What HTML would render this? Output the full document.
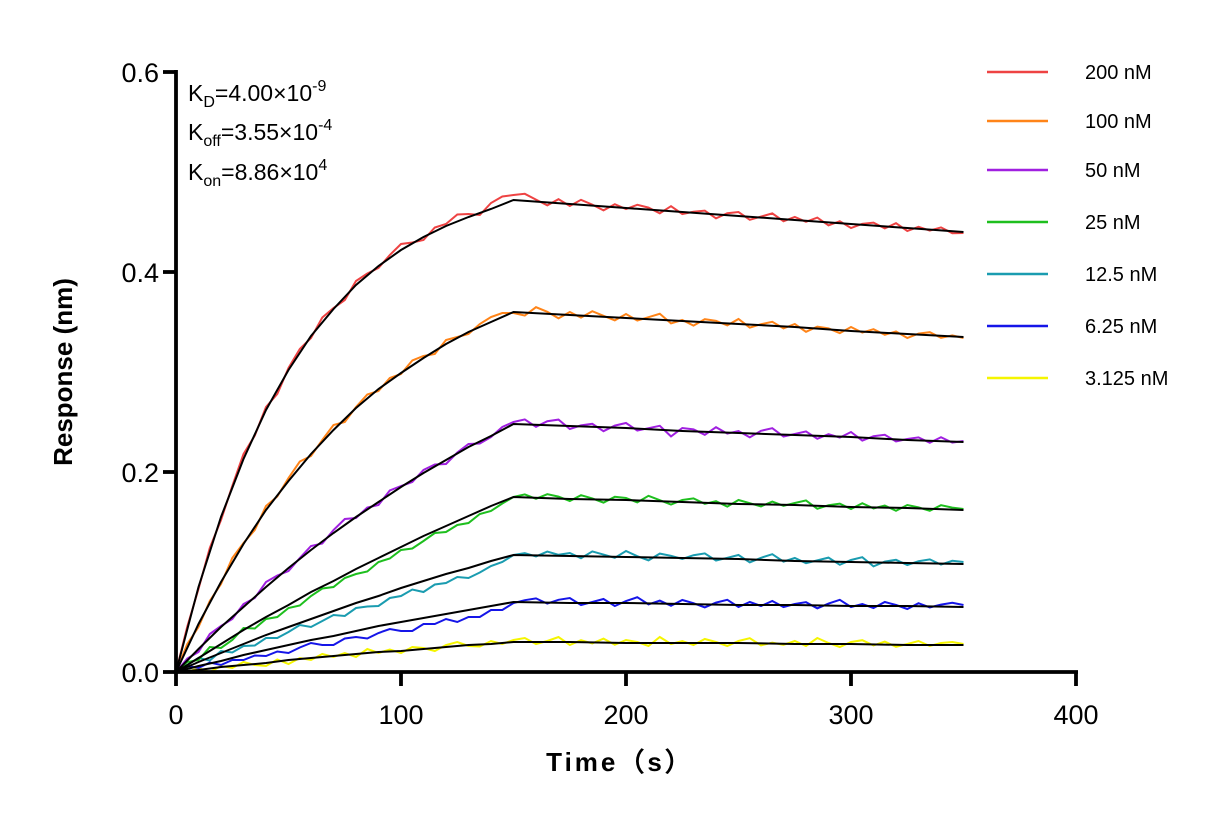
<!DOCTYPE html>
<html><head><meta charset="utf-8">
<style>
html,body{margin:0;padding:0;background:#fff;}
svg{display:block;font-family:"Liberation Sans",Arial,sans-serif;}
</style></head>
<body>
<svg id="chart" width="1231" height="825" viewBox="0 0 1231 825">
  <g id="series"></g>
  <g id="axes"></g>
  <g font-size="23" fill="#000">
    <text x="188" y="101">K<tspan font-size="16" dy="6">D</tspan><tspan dy="-6">=4.00×10</tspan><tspan font-size="16" dy="-10">-9</tspan></text>
    <text x="188" y="140">K<tspan font-size="16" dy="6">off</tspan><tspan dy="-6">=3.55×10</tspan><tspan font-size="16" dy="-10">-4</tspan></text>
    <text x="188" y="180">K<tspan font-size="16" dy="6">on</tspan><tspan dy="-6">=8.86×10</tspan><tspan font-size="16" dy="-10">4</tspan></text>
  </g>
  <g id="legend"></g>
</svg>
<script>
const NS="http://www.w3.org/2000/svg";
const labels=["200 nM","100 nM","50 nM","25 nM","12.5 nM","6.25 nM","3.125 nM"];
const colors=["#EE4343","#FF8418","#A020E0","#1EBF1E","#1A9CB0","#1515E8","#F5F500"];
const xTicks=[0,100,200,300,400];
const yTicks=[0.0,0.2,0.4,0.6];
const yTickLabels=["0.0","0.2","0.4","0.6"];
// fit: association t=0..150 step 10, dissociation t=150..350 step 25
const fitAssoc200=[0,.085,.155,.213,.262,.302,.336,.363,.387,.406,.422,.435,.446,.455,.463,.472];
const fitDiss200=[.472,.468,.464,.460,.456,.452,.448,.444,.440];
const fitAssoc100=[0,.048,.090,.128,.162,.191,.218,.242,.264,.283,.299,.314,.328,.340,.350,.360];
const fitDiss100=[.360,.357,.354,.351,.348,.345,.341,.338,.335];
const fitAssoc50=[0,.023,.045,.065,.085,.104,.122,.139,.155,.170,.185,.199,.212,.225,.236,.248];
const fitDiss50=[.248,.246,.244,.241,.239,.237,.235,.232,.230];
const fitAssoc25=[0,.014,.028,.042,.055,.067,.080,.091,.103,.114,.125,.136,.146,.156,.166,.175];
const fitDiss25=[.175,.173,.172,.170,.168,.167,.165,.164,.162];
const fitAssoc12=[0,.010,.019,.028,.037,.045,.053,.061,.069,.076,.084,.091,.098,.104,.111,.117];
const fitDiss12=[.117,.116,.115,.114,.113,.111,.110,.109,.108];
const fitAssoc6=[0,.006,.011,.017,.022,.027,.032,.036,.041,.046,.050,.054,.058,.062,.066,.070];
const fitDiss6=[.070,.069,.069,.068,.067,.067,.066,.066,.065];
const fitAssoc3=[0,.002,.005,.007,.009,.012,.014,.016,.018,.020,.021,.023,.025,.027,.028,.030];
const fitDiss3=[.030,.030,.029,.029,.029,.028,.028,.027,.027];
// measured residuals from fit (x0.001), t=0..350 step 5
const resid200=[0,3,-2,4,-3,2,5,-1,3,-4,2,4,-2,5,1,-3,4,2,-2,3,6,1,-3,4,2,7,3,-2,6,8,5,7,2,-3,4,-2,5,1,-4,3,-1,4,2,-3,5,-2,1,3,-4,2,4,-3,1,5,-2,3,-1,4,-3,2,-4,1,3,-2,4,-3,2,-1,3,-2,-1];
const resid100=[0,4,-3,2,-2,5,1,-3,4,-1,3,6,-2,2,5,-3,1,4,-2,3,-1,5,2,-3,4,1,-2,3,5,4,-1,-3,6,2,-4,3,-2,5,1,-3,4,-2,2,6,-3,1,-4,3,2,-2,5,-3,1,4,-2,3,-4,2,1,-3,4,-1,3,-2,2,-4,1,3,-2,1,-1];
const resid50=[0,2,-3,4,1,-2,3,-1,5,2,-3,1,4,-2,3,6,-1,2,-3,4,1,-2,3,2,-4,1,3,-2,-1,3,2,5,-2,4,6,-3,1,3,-4,2,5,-2,1,4,-6,3,2,-3,5,-1,2,-4,3,6,-2,1,4,-3,2,-1,5,-3,2,4,-2,1,3,-2,4,-1,1];
const resid25=[0,3,-2,4,-4,-3,2,-5,-2,-6,-3,-7,-4,-2,-6,-3,-5,-8,-4,-6,-3,-7,-5,-2,-6,-4,-7,-3,-5,-2,0,3,-1,4,2,-2,4,1,-3,3,2,-2,5,1,-3,2,4,-1,2,-3,4,1,-2,3,-1,2,5,-3,1,3,-2,4,-1,2,-3,3,1,-2,4,2,1];
const resid12=[0,2,4,-3,2,-4,-2,-6,-3,-7,-5,-2,-8,-6,-4,-9,-5,-7,-10,-6,-8,-5,-11,-7,-9,-6,-10,-8,-5,-4,0,2,-1,4,1,3,-2,5,2,-1,6,1,-3,4,2,-1,3,5,-2,1,4,-3,2,6,-1,3,-2,1,4,-3,2,5,-4,1,3,-2,2,4,-1,3,2];
const resid6=[0,3,-2,1,-4,-2,-5,-3,-6,-4,-8,-5,-3,-7,-9,-5,-6,-10,-7,-5,-9,-11,-6,-8,-5,-10,-7,-9,-4,-6,-1,2,4,-1,3,5,-2,1,4,-3,2,6,-1,3,-2,4,1,-3,2,5,-2,3,-1,4,-2,1,3,-3,2,6,-1,2,-2,4,1,-3,3,-1,2,4,2];
const resid3=[0,-3,2,-4,1,-2,3,-1,-3,2,-4,1,-2,3,-1,2,-3,4,-1,2,-2,3,1,-3,2,4,-1,-2,3,-1,2,4,-2,1,5,-3,2,-1,4,-2,3,1,-3,6,-1,2,-2,4,1,-3,2,5,-2,1,-1,3,-2,6,1,-3,2,4,-1,3,-2,1,4,-1,2,3,1];
const fitsA=[fitAssoc200,fitAssoc100,fitAssoc50,fitAssoc25,fitAssoc12,fitAssoc6,fitAssoc3];
const fitsD=[fitDiss200,fitDiss100,fitDiss50,fitDiss25,fitDiss12,fitDiss6,fitDiss3];
const resids=[resid200,resid100,resid50,resid25,resid12,resid6,resid3];

const X0=176,X1=1076,Y0=672,Y1=72;
const xs=t=>X0+(t/400)*(X1-X0);
const ys=v=>Y0-(v/0.6)*(Y0-Y1);
function fitAt(i,t){
  let arr,step,t0;
  if(t<=150){arr=fitsA[i];step=10;t0=0;} else {arr=fitsD[i];step=25;t0=150;}
  const f=(t-t0)/step, k=Math.min(Math.floor(f),arr.length-2), r=f-k;
  return arr[k]*(1-r)+arr[k+1]*r;
}
const gS=document.getElementById('series');
for(let i=labels.length-1;i>=0;i--){
  const pts=resids[i].map((r,j)=>{const t=j*5;return xs(t).toFixed(1)+","+ys(Math.max(0,fitAt(i,t)+r/1000)).toFixed(1);});
  const p=document.createElementNS(NS,'polyline');
  p.setAttribute('points',pts.join(' '));
  p.setAttribute('fill','none');p.setAttribute('stroke',colors[i]);p.setAttribute('stroke-width','2');
  
  
  gS.appendChild(p);
}
for(let i=0;i<labels.length;i++){
  const pts=[];
  fitsA[i].forEach((v,j)=>pts.push(xs(j*10).toFixed(1)+","+ys(v).toFixed(1)));
  fitsD[i].forEach((v,j)=>{if(j>0)pts.push(xs(150+j*25).toFixed(1)+","+ys(v).toFixed(1));});
  const p=document.createElementNS(NS,'polyline');
  p.setAttribute('points',pts.join(' '));
  p.setAttribute('fill','none');p.setAttribute('stroke','#000');p.setAttribute('stroke-width','2');
  
  
  gS.appendChild(p);
}
const gA=document.getElementById('axes');
function line(x1,y1,x2,y2,name){
  const l=document.createElementNS(NS,'line');
  l.setAttribute('x1',x1);l.setAttribute('y1',y1);l.setAttribute('x2',x2);l.setAttribute('y2',y2);
  l.setAttribute('stroke','#000');l.setAttribute('stroke-width','3.8');
  
  
  gA.appendChild(l);
}
function text(x,y,s,anchor,name,extra){
  const t=document.createElementNS(NS,'text');
  t.setAttribute('x',x);t.setAttribute('y',y);t.setAttribute('text-anchor',anchor);
  t.setAttribute('font-size','27');t.textContent=s;
  if(extra)for(const k in extra)t.setAttribute(k,extra[k]);
  
  
  gA.appendChild(t);return t;
}
line(X0,Y1-2,X0,Y0+2,'y-axis');
line(X0-2,Y0,X1+2,Y0,'x-axis');
yTicks.forEach((v,i)=>{line(X0-13,ys(v),X0,ys(v),'y-tick');text(X0-17,ys(v)+10,yTickLabels[i],'end','y-tick-label');});
xTicks.forEach(v=>{line(xs(v),Y0,xs(v),Y0+14,'x-tick');text(xs(v),Y0+52,String(v),'middle','x-tick-label');});
text(72,372,'Response (nm)','middle','y-axis-title',{'font-weight':'bold','font-size':'26','transform':'rotate(-90 72 372)'});
text(620,771,'Time（s）','middle','x-axis-title',{'font-weight':'bold','font-size':'26','letter-spacing':'3'});
const gL=document.getElementById('legend');
const legY=[72,121,170,222,274,326,378];
labels.forEach((lab,i)=>{
  const l=document.createElementNS(NS,'line');
  l.setAttribute('x1',987);l.setAttribute('x2',1048);l.setAttribute('y1',legY[i]);l.setAttribute('y2',legY[i]);
  l.setAttribute('stroke',colors[i]);l.setAttribute('stroke-width','2.5');
  
  
  gL.appendChild(l);
  const t=document.createElementNS(NS,'text');
  t.setAttribute('x',1085);t.setAttribute('y',legY[i]+7);t.setAttribute('font-size','20');t.textContent=lab;
  
  
  gL.appendChild(t);
});
</script>
</body></html>
